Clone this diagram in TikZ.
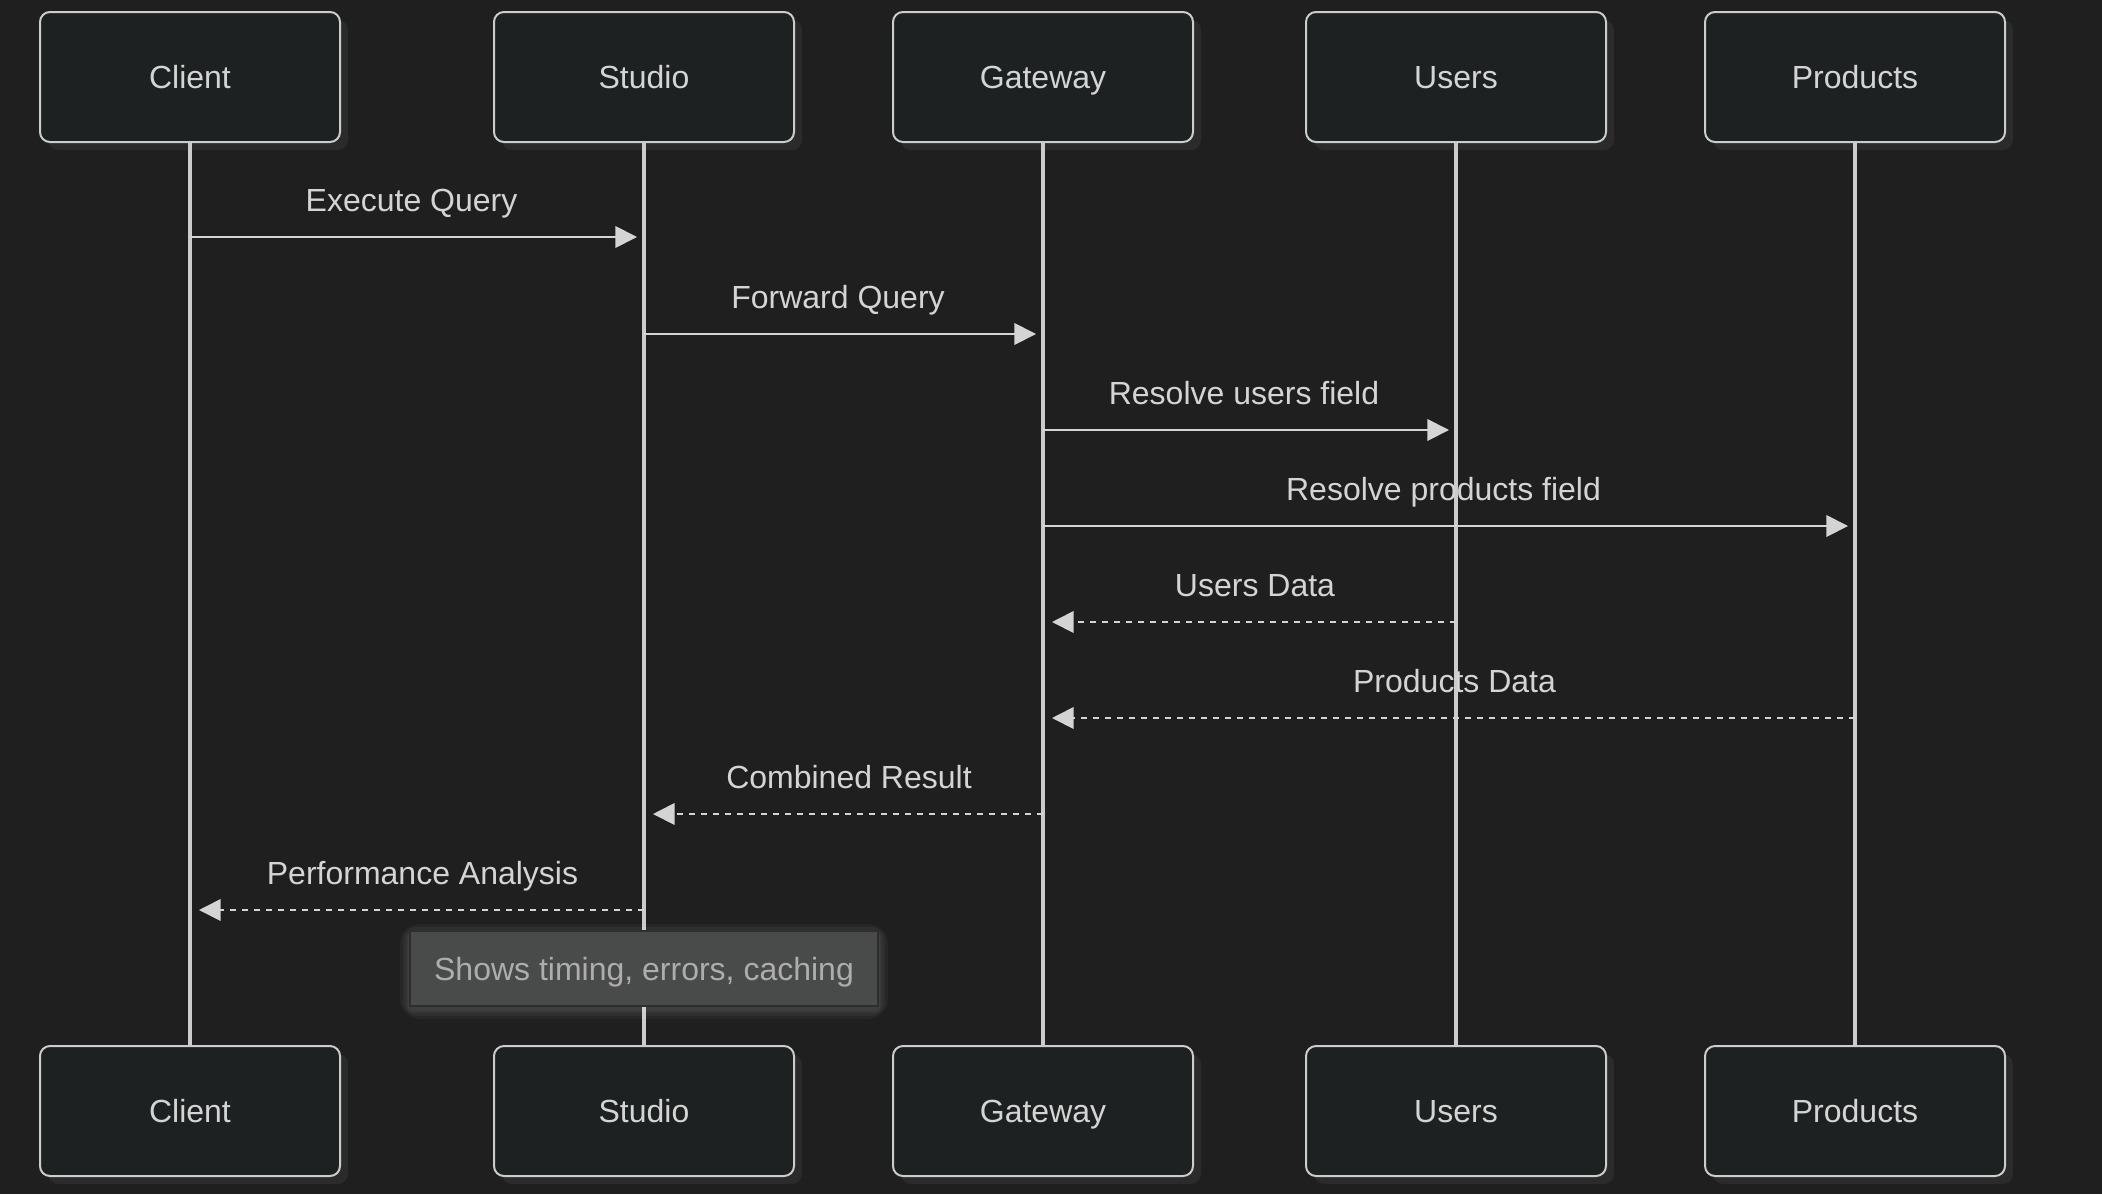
\documentclass[tikz,border=0pt]{standalone}
\usepackage{fontspec}
\setmainfont{Liberation Sans}
\usetikzlibrary{arrows.meta,shadows}
\definecolor{bg}{HTML}{1F1F1F}
\definecolor{boxfill}{HTML}{1E2121}
\definecolor{boxline}{HTML}{CCCCCC}
\definecolor{txt}{HTML}{D4D4D4}
\definecolor{shadowc}{HTML}{2B2B2B}
\definecolor{notefill}{HTML}{494A4A}
\definecolor{noteline}{HTML}{2E2E2E}
\definecolor{notetxt}{HTML}{ADADAD}
\begin{document}
\begin{tikzpicture}[x=0.5pt,y=-0.5pt,
  actor/.style={rectangle, rounded corners=5pt, draw=boxline, fill=boxfill, line width=1pt,
    minimum width=150pt, minimum height=65pt, inner sep=0pt,
    font=\fontsize{16}{19}\selectfont, text=txt, text height=11.5pt, text depth=0pt,
    general shadow={fill=shadowc, shadow xshift=4pt, shadow yshift=-4pt}},
  lifeline/.style={draw=boxline, line width=1.8pt},
  msg/.style={draw=txt, line width=0.9pt, -{Triangle[length=10.8pt,width=10.8pt]}, shorten >=3.5pt},
  ret/.style={msg, dash pattern=on 3pt off 3pt, shorten >=4.5pt},
  lbl/.style={font=\fontsize{16}{19}\selectfont, text=txt, anchor=base, inner sep=0pt, yshift=13pt},
  fwdlbl/.style={lbl, xshift=-2.75pt},
  retlbl/.style={lbl, xshift=2.75pt},
  note/.style={rectangle, draw=noteline, fill=notefill, line width=1pt,
    minimum width=234pt, minimum height=37.5pt, inner sep=0pt,
    font=\fontsize{16}{19}\selectfont, text=notetxt, text height=11.5pt, text depth=0pt},
  glow/.style={fill=white, opacity=0.04}
]
\fill[bg] (0,0) rectangle (2102,1194);
\useasboundingbox (0,0) rectangle (2102,1194);

% actors
\node[actor] (cT) at (190,77) {Client};
\node[actor] (sT) at (644,77) {Studio};
\node[actor] (gT) at (1043,77) {Gateway};
\node[actor] (uT) at (1456,77) {Users};
\node[actor] (pT) at (1855,77) {Products};
\node[actor] (cB) at (190,1111) {Client};
\node[actor] (sB) at (644,1111) {Studio};
\node[actor] (gB) at (1043,1111) {Gateway};
\node[actor] (uB) at (1456,1111) {Users};
\node[actor] (pB) at (1855,1111) {Products};

% lifelines
\draw[lifeline] (cT.south) -- (cB.north);
\draw[lifeline] (sT.south) -- (sB.north);
\draw[lifeline] (gT.south) -- (gB.north);
\draw[lifeline] (uT.south) -- (uB.north);
\draw[lifeline] (pT.south) -- (pB.north);

% message anchor points
\coordinate (m1a) at (190,237);  \coordinate (m1b) at (644,237);
\coordinate (m2a) at (644,334);  \coordinate (m2b) at (1043,334);
\coordinate (m3a) at (1043,430); \coordinate (m3b) at (1456,430);
\coordinate (m4a) at (1043,526); \coordinate (m4b) at (1855,526);
\coordinate (m5a) at (1456,622); \coordinate (m5b) at (1043,622);
\coordinate (m6a) at (1855,718); \coordinate (m6b) at (1043,718);
\coordinate (m7a) at (1043,814); \coordinate (m7b) at (644,814);
\coordinate (m8a) at (644,910);  \coordinate (m8b) at (190,910);

\draw[msg] (m1a) -- node[fwdlbl] {Execute Query} (m1b);
\draw[msg] (m2a) -- node[fwdlbl] {Forward Query} (m2b);
\draw[msg] (m3a) -- node[fwdlbl] {Resolve users field} (m3b);
\draw[msg] (m4a) -- node[fwdlbl] {Resolve products field} (m4b);
\draw[ret] (m5a) -- node[retlbl] {Users Data} (m5b);
\draw[ret] (m6a) -- node[retlbl] {Products Data} (m6b);
\draw[ret] (m7a) -- node[retlbl] {Combined Result} (m7b);
\draw[ret] (m8a) -- node[retlbl] {Performance Analysis} (m8b);

% note glow
\foreach \d in {10,7,4,2}{
  \fill[glow, rounded corners=\d] (410-\d,931-\d+3) rectangle (878+\d,1006+\d+3);
}
\node[note] (note) at (644,968.5) {Shows timing, errors, caching};
\end{tikzpicture}
\end{document}
